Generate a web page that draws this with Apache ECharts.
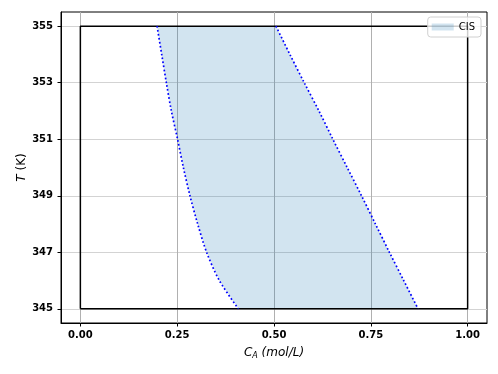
<!DOCTYPE html>
<html>
<head>
<meta charset="utf-8">
<script src="https://cdn.jsdelivr.net/npm/echarts@6/dist/echarts.min.js"></script>
<style>
  html, body { margin: 0; padding: 0; background: #fff; }
  #chart { width: 498px; height: 374px; }
</style>
</head>
<body>
<div id="chart"></div>
<script>
// temperatures along both boundaries (K)
var tempLevels = [355, 354, 353, 352, 351, 350, 349, 348, 347, 346, 345];
// left boundary C_A (mol/L)
var leftCA = [0.198, 0.210, 0.222, 0.235, 0.251, 0.266, 0.283, 0.303, 0.326, 0.359, 0.408];
// right boundary C_A (mol/L)
var rightCA = [0.505, 0.541, 0.578, 0.616, 0.652, 0.689, 0.726, 0.762, 0.798, 0.835, 0.872];
// box of the operating range
var boxCA = [0, 1, 1, 0, 0];
var boxT = [345, 345, 355, 355, 345];
var xTicks = [0, 0.25, 0.5, 0.75, 1];
var yTicks = [345, 347, 349, 351, 353, 355];

var leftData = leftCA.map(function (x, i) { return [x, tempLevels[i]]; });
var rightData = rightCA.map(function (x, i) { return [x, tempLevels[i]]; });
var polyData = leftData.concat(rightData.slice().reverse());
var boxData = boxCA.map(function (x, i) { return [x, boxT[i]]; });

var chart = echarts.init(document.getElementById('chart'));
var font = 'DejaVu Sans';

chart.setOption({
  animation: false,
  textStyle: { fontFamily: font },
  grid: {
    left: 61, right: 11, top: 12, bottom: 51,
    show: true, borderColor: '#000', borderWidth: 1
  },
  legend: {
    data: ['CIS'],
    right: 17, top: 17,
    padding: [5, 6, 5, 4],
    itemWidth: 22, itemHeight: 7,
    icon: 'rect',
    backgroundColor: 'rgba(255,255,255,0.8)',
    borderColor: '#d0d0d0', borderWidth: 1, borderRadius: 3,
    textStyle: { fontFamily: font, fontSize: 10, color: '#000' }
  },
  xAxis: {
    type: 'value',
    min: -0.05, max: 1.05,
    name: '{i|C}{s|A}{i| (mol/L)}',
    nameLocation: 'middle',
    nameGap: 23,
    nameMoveOverlap: false,
    nameTextStyle: {
      fontFamily: font, fontSize: 12, color: '#000',
      rich: {
        i: { fontFamily: font, fontSize: 12, fontStyle: 'italic', color: '#000' },
        s: { fontFamily: font, fontSize: 8, fontStyle: 'italic', color: '#000', padding: [6, 0, 0, 0] }
      }
    },
    axisLine: { show: true, onZero: false, lineStyle: { color: '#000', width: 1 } },
    axisTick: { show: true, length: 3.5, customValues: xTicks, lineStyle: { color: '#000' } },
    axisLabel: {
      customValues: xTicks,
      margin: 7,
      fontSize: 10, fontWeight: 'bold', color: '#000', fontFamily: font,
      formatter: function (v) { return v.toFixed(2); }
    },
    splitLine: { show: true, lineStyle: { color: '#b0b0b0', width: 1 } }
  },
  yAxis: {
    type: 'value',
    min: 344.5, max: 355.5,
    name: '{i|T} (K)',
    nameLocation: 'middle',
    nameRotate: 90,
    nameGap: 33,
    nameMoveOverlap: false,
    nameTextStyle: {
      fontFamily: font, fontSize: 12, color: '#000',
      rich: {
        i: { fontFamily: font, fontSize: 12, fontStyle: 'italic', color: '#000' }
      }
    },
    axisLine: { show: true, onZero: false, lineStyle: { color: '#000', width: 1 } },
    axisTick: { show: true, length: 3.5, customValues: yTicks, lineStyle: { color: '#000' } },
    axisLabel: {
      customValues: yTicks,
      margin: 8,
      fontSize: 10, fontWeight: 'bold', color: '#000', fontFamily: font
    },
    splitLine: { show: true, lineStyle: { color: '#d3d3d3', width: 1 } }
  },
  series: [
    {
      name: 'CIS',
      type: 'custom',
      z: 1,
      itemStyle: { color: 'rgba(31,119,180,0.2)' },
      data: polyData,
      encode: { x: 0, y: 1 },
      renderItem: function (params, api) {
        if (params.dataIndex !== 0) return null;
        var pts = polyData.map(function (p) { return api.coord(p); });
        return {
          type: 'polygon',
          shape: { points: pts },
          style: { fill: 'rgba(31,119,180,0.2)', stroke: null }
        };
      }
    },
    {
      name: 'box',
      type: 'line',
      z: 2,
      data: boxData,
      showSymbol: false,
      lineStyle: { color: '#000', width: 1.5 }
    },
    {
      name: 'left',
      type: 'line',
      z: 3,
      data: leftData,
      showSymbol: false,
      smooth: 0.3,
      lineStyle: { color: '#0000ff', width: 1.7, type: [1.7, 2.3] }
    },
    {
      name: 'right',
      type: 'line',
      z: 3,
      data: rightData,
      showSymbol: false,
      smooth: 0.3,
      lineStyle: { color: '#0000ff', width: 1.7, type: [1.7, 2.3] }
    }
  ]
});
</script>
</body>
</html>
